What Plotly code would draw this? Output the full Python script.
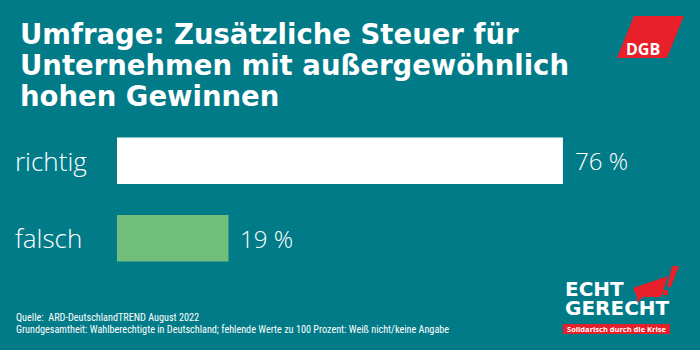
import plotly.graph_objects as go

categories = ["richtig", "falsch"]
values = [76, 19]
value_labels = ["76 %", "19 %"]
bar_colors = ["#FFFFFF", "#72BE7B"]

title_lines = ["Umfrage: Zusätzliche Steuer für",
               "Unternehmen mit außergewöhnlich",
               "hohen Gewinnen"]
source_lines = ["Quelle:  ARD-DeutschlandTREND August 2022",
                "Grundgesamtheit: Wahlberechtigte in Deutschland; fehlende Werte zu 100 Prozent: Weiß nicht/keine Angabe"]

BG = "#027B88"
RED = "#E8202A"
W, H = 700, 350
L, R, T, B = 117, 8, 122, 73
PW, PH = W - L - R, H - T - B


def px(x):
    return (x - L) / PW


def py(y):
    return (H - B - y) / PH


fig = go.Figure(go.Bar(
    y=categories, x=values, orientation="h",
    marker=dict(color=bar_colors, line=dict(width=0)),
    width=0.6, hoverinfo="skip",
))

ann = []
# title (one annotation per line for tight line spacing)
for i, line in enumerate(title_lines):
    ann.append(dict(text=line, xref="paper", yref="paper", x=px(18), y=py(34 + i * 31),
                    xanchor="left", yanchor="middle", showarrow=False,
                    font=dict(family="DejaVu Sans", size=27.5, color="white", weight=700)))
# category labels + value labels
for c, v, lab in zip(categories, values, value_labels):
    ann.append(dict(text=c, xref="paper", yref="y", x=px(13), y=c,
                    xanchor="left", yanchor="middle", showarrow=False,
                    font=dict(family="Open Sans", size=26, color="white", weight=300)))
    ann.append(dict(text=lab, xref="x", yref="y", x=v, y=c, xshift=10,
                    xanchor="left", yanchor="middle", showarrow=False,
                    font=dict(family="Open Sans", size=24, color="white", weight=300)))
# source
for i, line in enumerate(source_lines):
    ann.append(dict(text=line, xref="paper", yref="paper", x=px(14), y=py(317.5 + i * 12),
                    xanchor="left", yanchor="middle", showarrow=False,
                    font=dict(family="Liberation Sans Narrow, Roboto Condensed, Roboto", size=10.2, color="white")))

shapes = []
# DGB logo parallelogram
shapes.append(dict(type="path", xref="paper", yref="paper",
                   path=f"M {px(634)},{py(16)} L {px(684)},{py(16)} L {px(667)},{py(58)} L {px(617)},{py(58)} Z",
                   fillcolor=RED, line=dict(width=0)))
ann.append(dict(text="DGB", xref="paper", yref="paper", x=px(643), y=py(49),
                xanchor="center", yanchor="middle", showarrow=False,
                font=dict(family="Open Sans", size=16, color="white", weight=700)))
# ECHT GERECHT logo
shapes.append(dict(type="path", xref="paper", yref="paper",
                   path=(f"M {px(633)},{py(288)} L {px(668)},{py(276)} L {px(661)},{py(297)} "
                         f"L {px(643)},{py(297)} L {px(637)},{py(303)} L {px(637)},{py(297)} Z"),
                   fillcolor=RED, line=dict(width=0)))
shapes.append(dict(type="path", xref="paper", yref="paper",
                   path=f"M {px(672)},{py(266)} L {px(679)},{py(266)} L {px(671)},{py(287)} L {px(667)},{py(287)} Z",
                   fillcolor=RED, line=dict(width=0)))
shapes.append(dict(type="rect", xref="paper", yref="paper",
                   x0=px(663), x1=px(668), y0=py(295), y1=py(290),
                   fillcolor=RED, line=dict(width=0)))
shapes.append(dict(type="rect", xref="paper", yref="paper",
                   x0=px(563), x1=px(670), y0=py(334), y1=py(324),
                   fillcolor=RED, line=dict(width=0)))
ann.append(dict(text="ECHT", xref="paper", yref="paper", x=px(563), y=py(288.5),
                xanchor="left", yanchor="middle", showarrow=False,
                font=dict(family="DejaVu Sans", size=20, color="white", weight=700)))
ann.append(dict(text="GERECHT", xref="paper", yref="paper", x=px(563), y=py(308),
                xanchor="left", yanchor="middle", showarrow=False,
                font=dict(family="DejaVu Sans", size=20, color="white", weight=700)))
ann.append(dict(text="Solidarisch durch die Krise", xref="paper", yref="paper", x=px(616.5), y=py(329),
                xanchor="center", yanchor="middle", showarrow=False,
                font=dict(family="Open Sans", size=7.5, color="white", weight=700)))

fig.update_layout(
    width=W, height=H, margin=dict(l=L, r=R, t=T, b=B),
    paper_bgcolor=BG, plot_bgcolor=BG,
    showlegend=False, bargap=0.4,
    xaxis=dict(range=[0, 98], visible=False, fixedrange=True),
    yaxis=dict(range=[1.5, -0.5], visible=False, fixedrange=True,
               categoryorder="array", categoryarray=categories),
    annotations=ann, shapes=shapes,
)

fig.write_html("out.html")
